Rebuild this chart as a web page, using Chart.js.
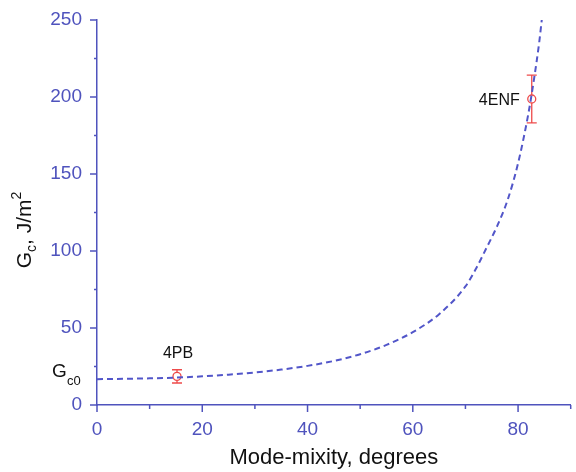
<!DOCTYPE html>
<html><head><meta charset="utf-8">
<script src="https://cdn.jsdelivr.net/npm/chart.js@4"></script>
<style>html,body{margin:0;padding:0;background:#fff}#wrap{width:576px;height:472px}</style>
</head><body><div id="wrap"><canvas id="c" width="576" height="472"></canvas></div>
<script>
// Fitted curve
const fitMixity = [0, 5, 10, 15, 20, 25, 30, 35, 40, 45, 50, 55, 60, 65, 70, 72, 74, 76, 78, 80, 82, 83, 84, 84.5];
const fitGc     = [16.8, 17.0, 17.3, 17.8, 18.6, 19.7, 21.1, 23.0, 25.4, 28.6, 33.0, 39.0, 47.3, 59, 77, 88.5, 102, 116, 133, 157, 190, 211, 235, 250];
// Experimental points
const expMixity = [15.2, 82.6];
const expGc     = [18.6, 198.7];
const expErr    = [4.3, 15.5];
const expLabels = ['4PB', '4ENF'];
// Ticks
const xTicks = [0, 20, 40, 60, 80];
const yTicks = [0, 50, 100, 150, 200, 250];
const gc0 = 16.8;

const FAM = '"Liberation Sans", Arial, Helvetica, sans-serif';
const axisColor = '#4f53bd';
const curveColor = '#5256c9';
const red = '#ee4b4b';

const deco = {
  id: 'deco',
  beforeDatasetDraw(chart, args) {
    if (args.index !== 1) return;
    const {ctx, scales: {x, y}} = chart;
    ctx.save();
    ctx.strokeStyle = red; ctx.lineWidth = 1.3;
    expMixity.forEach((m, i) => {
      const px = x.getPixelForValue(m);
      const top = y.getPixelForValue(expGc[i] + expErr[i]);
      const bot = y.getPixelForValue(expGc[i] - expErr[i]);
      ctx.beginPath();
      ctx.moveTo(px, top); ctx.lineTo(px, bot);
      ctx.moveTo(px - 5, top); ctx.lineTo(px + 5, top);
      ctx.moveTo(px - 5, bot); ctx.lineTo(px + 5, bot);
      ctx.stroke();
    });
    ctx.restore();
  },
  afterDraw(chart) {
    const {ctx, scales: {x, y}, chartArea: a} = chart;
    ctx.save();
    // tick marks
    ctx.strokeStyle = axisColor; ctx.lineWidth = 1.5;
    x.ticks.forEach(t => {
      const px = x.getPixelForValue(t.value);
      const major = xTicks.includes(t.value);
      ctx.beginPath(); ctx.moveTo(px, a.bottom); ctx.lineTo(px, a.bottom + (major ? 7 : 4)); ctx.stroke();
    });
    y.ticks.forEach(t => {
      const py = y.getPixelForValue(t.value);
      const major = yTicks.includes(t.value);
      ctx.beginPath(); ctx.moveTo(a.left, py); ctx.lineTo(a.left - (major ? 7 : 3), py); ctx.stroke();
    });
    // point labels
    ctx.fillStyle = '#111';
    ctx.font = '16px ' + FAM;
    ctx.textBaseline = 'middle';
    const p0x = x.getPixelForValue(expMixity[0]), p0y = y.getPixelForValue(expGc[0]);
    ctx.textAlign = 'center';
    ctx.fillText(expLabels[0], p0x + 1, p0y - 23);
    const p1x = x.getPixelForValue(expMixity[1]), p1y = y.getPixelForValue(expGc[1]);
    ctx.textAlign = 'right';
    ctx.fillText(expLabels[1], p1x - 12, p1y + 2);
    // Gc0 label
    const gy = y.getPixelForValue(gc0);
    ctx.textAlign = 'left'; ctx.textBaseline = 'alphabetic';
    ctx.font = '19px ' + FAM;
    ctx.fillText('G', 52, gy - 2);
    ctx.font = '13px ' + FAM;
    ctx.fillText('c0', 67, gy + 6);
    // y title (rotated)
    ctx.translate(31, 230);
    ctx.rotate(-Math.PI / 2);
    const big = '21px ' + FAM, small = '14px ' + FAM;
    ctx.font = big; const wG = ctx.measureText('G').width; const wM = ctx.measureText(', J/m').width;
    ctx.font = small; const wc = ctx.measureText('c').width; const w2 = ctx.measureText('2').width;
    let cx = -(wG + wc + wM + w2) / 2;
    ctx.font = big; ctx.fillText('G', cx, 0); cx += wG;
    ctx.font = small; ctx.fillText('c', cx, 5); cx += wc;
    ctx.font = big; ctx.fillText(', J/m', cx, 0); cx += wM;
    ctx.font = small; ctx.fillText('2', cx, -10);
    ctx.restore();
  }
};

new Chart(document.getElementById('c'), {
  type: 'scatter',
  data: {
    datasets: [
      {
        type: 'line',
        data: fitMixity.map((v, i) => ({x: v, y: fitGc[i]})),
        borderColor: curveColor, borderWidth: 2, borderDash: [6, 4],
        pointRadius: 0, cubicInterpolationMode: 'monotone', fill: false
      },
      {
        data: expMixity.map((v, i) => ({x: v, y: expGc[i]})),
        pointStyle: 'circle', pointRadius: 4, borderColor: red, backgroundColor: '#fff', borderWidth: 1.3
      }
    ]
  },
  options: {
    responsive: false, animation: false,
    layout: {padding: {top: 20, right: 4, left: 0, bottom: 0}},
    plugins: {legend: {display: false}, tooltip: {enabled: false}},
    scales: {
      x: {
        type: 'linear', min: 0, max: 90,
        afterFit(s) { s.height = 67; s.paddingLeft = 0; s.paddingRight = 0; },
        grid: {display: false, drawTicks: false},
        border: {display: true, color: axisColor, width: 1.5},
        ticks: {stepSize: 10, includeBounds: false, padding: 13, color: axisColor, autoSkip: false, maxRotation: 0,
          font: {size: 19, family: FAM},
          callback: v => xTicks.includes(v) ? String(v) : ''},
        title: {display: true, text: 'Mode-mixity, degrees', color: '#111', font: {size: 22, family: FAM}, padding: {top: 0, bottom: 1}}
      },
      y: {
        type: 'linear', min: 0, max: 250,
        afterFit(s) { s.width = 97; s.paddingTop = 0; s.paddingBottom = 0; },
        grid: {display: false, drawTicks: false},
        border: {display: true, color: axisColor, width: 1.5},
        ticks: {stepSize: 25, includeBounds: false, padding: 15, color: axisColor, autoSkip: false,
          font: {size: 19, family: FAM},
          callback: v => yTicks.includes(v) ? String(v) : ''}
      }
    }
  },
  plugins: [deco]
});
</script>
</body></html>
